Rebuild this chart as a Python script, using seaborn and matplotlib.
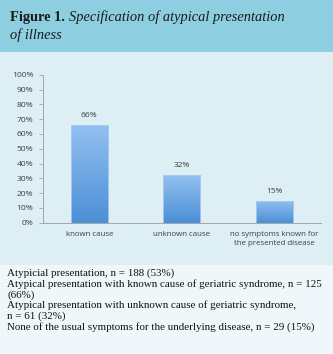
import numpy as np
import pandas as pd
import matplotlib
matplotlib.use("Agg")
import matplotlib.pyplot as plt
from matplotlib.patches import Rectangle
from matplotlib.colors import LinearSegmentedColormap
import seaborn as sns

categories = ["known cause", "unknown cause", "no symptoms known for\nthe presented disease"]
values = [66, 32, 15]
value_labels = ["66%", "32%", "15%"]
yticks = [0, 10, 20, 30, 40, 50, 60, 70, 80, 90, 100]
ytick_labels = [f"{t}%" for t in yticks]
title_bold = "Figure 1."
title_italic_1 = "Specification of atypical presentation"
title_italic_2 = "of illness"
caption_lines = [
    "Atypicial presentation, n = 188 (53%)",
    "Atypical presentation with known cause of geriatric syndrome, n = 125",
    "(66%)",
    "Atypical presentation with unknown cause of geriatric syndrome,",
    "n = 61 (32%)",
    "None of the usual symptoms for the underlying disease, n = 29 (15%)",
]

sns.set_theme(style="white")
plt.rcParams["font.family"] = ["Open Sans", "DejaVu Sans"]

W, H = 333, 354
fig = plt.figure(figsize=(W / 100, H / 100), dpi=100)
fig.patch.set_facecolor("#f0f7fa")

def fy(px):
    return 1 - px / H

# background panels
fig.patches.append(Rectangle((0, fy(52)), 1, 52 / H, transform=fig.transFigure,
                             facecolor="#8dcfe1", edgecolor="none", zorder=-10))
fig.patches.append(Rectangle((0, fy(265)), 1, (265 - 52) / H, transform=fig.transFigure,
                             facecolor="#ddeef5", edgecolor="none", zorder=-10))

ax = fig.add_axes([43 / W, fy(222.7), (320.7 - 43) / W, (222.7 - 74.7) / H])
ax.set_facecolor("none")

df = pd.DataFrame({"category": categories, "value": values})
sns.barplot(data=df, x="category", y="value", ax=ax, width=0.4, color="#6aa6e4")

cmap = LinearSegmentedColormap.from_list("grad", ["#4b8fd6", "#93c0f1"])
grad = np.linspace(0, 1, 256).reshape(-1, 1)
for p, lab in zip(ax.patches, value_labels):
    x0, y0 = p.get_x(), p.get_y()
    w, h = p.get_width(), p.get_height()
    im = ax.imshow(grad, cmap=cmap, origin="lower", aspect="auto",
                   extent=[x0, x0 + w, y0, y0 + h], zorder=2)
    im.set_clip_path(p)
    p.set_facecolor("none")
    p.set_edgecolor("#a9cdf2")
    p.set_linewidth(0.6)
    p.set_zorder(3)
    ax.text(x0 + w / 2, y0 + h + 4, lab, ha="center", va="bottom",
            fontsize=6, color="#404040")

ax.set_xlim(-0.5, 2.5)
ax.set_ylim(0, 100)
ax.set_yticks(yticks)
ax.set_yticklabels(ytick_labels)
ax.set_xticks([0, 1, 2])
ax.set_xticklabels(categories, fontsize=5.7, color="#404040", linespacing=1.45)
ax.set_xticks([-0.5, 0.5, 1.5, 2.5], minor=True)
ax.tick_params(axis="x", which="major", length=0, pad=6)
ax.tick_params(axis="x", which="minor", length=3, width=0.6, color="#a6a6a6", direction="out")
ax.tick_params(axis="y", length=3, width=0.6, color="#a6a6a6", direction="out",
               labelsize=6.1, labelcolor="#404040", pad=4, left=True)
ax.set_xlabel("")
ax.set_ylabel("")
for s in ["top", "right"]:
    ax.spines[s].set_visible(False)
for s in ["left", "bottom"]:
    ax.spines[s].set_color("#a6a6a6")
    ax.spines[s].set_linewidth(0.7)

# title
serif = ["Liberation Serif", "DejaVu Serif"]
t1 = fig.text(10 / W, fy(21), title_bold, fontsize=10.4, fontweight="bold",
              family=serif, color="#1a1a1a", ha="left", va="baseline")
fig.canvas.draw()
bb = t1.get_window_extent()
fig.text(bb.x1 / W + 4 / W, fy(21), title_italic_1, fontsize=10.4, fontstyle="italic",
         family=serif, color="#1a1a1a", ha="left", va="baseline")
fig.text(10 / W, fy(39), title_italic_2, fontsize=10.4, fontstyle="italic",
         family=serif, color="#1a1a1a", ha="left", va="baseline")

# caption
y = 276
for line in caption_lines:
    fig.text(7 / W, fy(y), line, fontsize=7.9, family=serif, color="#111111",
             ha="left", va="baseline")
    y += 10.8

fig.savefig("out.png", dpi=100)
